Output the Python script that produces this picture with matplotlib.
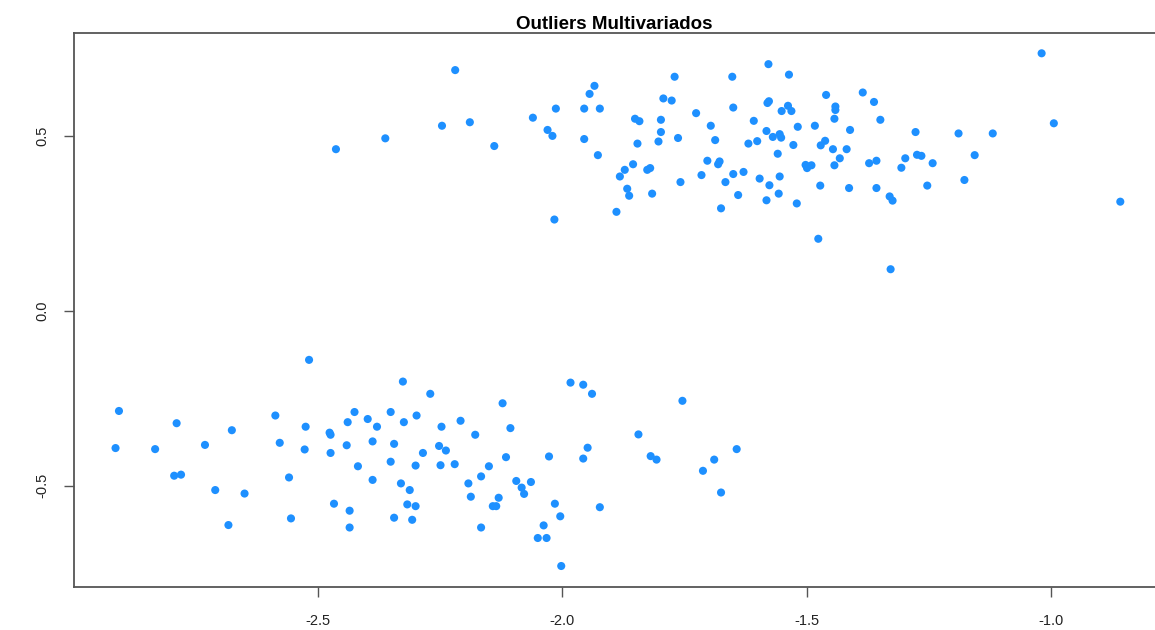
import matplotlib
matplotlib.use("Agg")
import matplotlib.pyplot as plt
import numpy as np

# Upper group of observations
upper_x = [-2.463, -2.362, -2.219, -2.246, -2.189, -2.139, -2.060, -2.030, -2.013, -2.020,
           -2.016, -1.955, -1.934, -1.944, -1.923, -1.955, -1.927, -1.889, -1.882, -1.872,
           -1.855, -1.867, -1.863, -1.846, -1.851, -1.842, -1.798, -1.798, -1.803, -1.826,
           -1.820, -1.816, -1.793, -1.776, -1.770, -1.763, -1.758, -1.726, -1.715, -1.703,
           -1.696, -1.687, -1.678, -1.681, -1.675, -1.666, -1.652, -1.650, -1.650, -1.640,
           -1.629, -1.608, -1.619, -1.601, -1.596, -1.582, -1.578, -1.580, -1.577, -1.582,
           -1.576, -1.569, -1.555, -1.552, -1.559, -1.555, -1.557, -1.551, -1.538, -1.531,
           -1.536, -1.527, -1.518, -1.520, -1.502, -1.499, -1.490, -1.483, -1.476, -1.472,
           -1.471, -1.462, -1.460, -1.446, -1.443, -1.441, -1.441, -1.443, -1.432, -1.418,
           -1.413, -1.411, -1.385, -1.372, -1.357, -1.362, -1.349, -1.357, -1.330, -1.324,
           -1.328, -1.306, -1.298, -1.277, -1.274, -1.265, -1.253, -1.242, -1.189, -1.177,
           -1.156, -1.119, -1.019, -0.994, -0.858]
upper_y = [0.462, 0.493, 0.688, 0.529, 0.539, 0.471, 0.552, 0.517, 0.578, 0.500,
           0.261, 0.578, 0.643, 0.620, 0.578, 0.491, 0.445, 0.283, 0.384, 0.403,
           0.419, 0.349, 0.329, 0.478, 0.549, 0.542, 0.546, 0.511, 0.484, 0.403,
           0.408, 0.335, 0.607, 0.601, 0.669, 0.494, 0.368, 0.565, 0.388, 0.429,
           0.529, 0.488, 0.427, 0.419, 0.293, 0.368, 0.669, 0.581, 0.391, 0.331,
           0.397, 0.543, 0.478, 0.485, 0.378, 0.316, 0.705, 0.594, 0.599, 0.514,
           0.359, 0.497, 0.505, 0.495, 0.449, 0.384, 0.335, 0.571, 0.586, 0.571,
           0.675, 0.474, 0.526, 0.307, 0.417, 0.408, 0.416, 0.529, 0.206, 0.358,
           0.473, 0.486, 0.617, 0.462, 0.549, 0.584, 0.574, 0.416, 0.436, 0.462,
           0.351, 0.517, 0.624, 0.422, 0.429, 0.597, 0.546, 0.351, 0.327, 0.315,
           0.119, 0.409, 0.436, 0.511, 0.446, 0.443, 0.358, 0.422, 0.507, 0.374,
           0.445, 0.507, 0.736, 0.536, 0.312]

# Lower group of observations
lower_x = [-2.518, -2.907, -2.914, -2.833, -2.789, -2.794, -2.780, -2.731, -2.676, -2.710,
           -2.650, -2.683, -2.587, -2.578, -2.525, -2.527, -2.559, -2.555, -2.476, -2.474,
           -2.474, -2.467, -2.435, -2.435, -2.441, -2.439, -2.425, -2.418, -2.398, -2.388,
           -2.388, -2.379, -2.351, -2.351, -2.344, -2.344, -2.326, -2.330, -2.324, -2.312,
           -2.317, -2.300, -2.307, -2.300, -2.298, -2.285, -2.270, -2.252, -2.238, -2.249,
           -2.247, -2.220, -2.208, -2.178, -2.192, -2.187, -2.166, -2.150, -2.166, -2.142,
           -2.135, -2.130, -2.122, -2.106, -2.115, -2.094, -2.083, -2.078, -2.064, -2.050,
           -2.032, -2.038, -2.027, -2.015, -2.004, -2.002, -1.983, -1.957, -1.939, -1.948,
           -1.957, -1.923, -1.844, -1.819, -1.807, -1.754, -1.712, -1.689, -1.675, -1.643]
lower_y = [-0.140, -0.286, -0.392, -0.395, -0.321, -0.471, -0.468, -0.383, -0.341, -0.512,
           -0.522, -0.612, -0.299, -0.377, -0.331, -0.396, -0.476, -0.593, -0.348, -0.354,
           -0.406, -0.551, -0.571, -0.619, -0.384, -0.318, -0.289, -0.444, -0.309, -0.373,
           -0.483, -0.331, -0.289, -0.431, -0.380, -0.591, -0.202, -0.493, -0.318, -0.512,
           -0.553, -0.558, -0.597, -0.442, -0.299, -0.406, -0.237, -0.386, -0.399, -0.441,
           -0.331, -0.438, -0.314, -0.354, -0.493, -0.531, -0.473, -0.444, -0.619, -0.558,
           -0.558, -0.534, -0.264, -0.335, -0.418, -0.486, -0.505, -0.523, -0.489, -0.649,
           -0.649, -0.613, -0.416, -0.551, -0.587, -0.729, -0.205, -0.211, -0.237, -0.391,
           -0.422, -0.561, -0.353, -0.415, -0.425, -0.257, -0.457, -0.425, -0.519, -0.395]

x_ticks = [-2.5, -2.0, -1.5, -1.0]
y_ticks = [-0.5, 0.0, 0.5]
title = "Outliers Multivariados"

plt.rcParams['font.family'] = ['Liberation Sans', 'DejaVu Sans']

fig = plt.figure(figsize=(11.55, 6.30), dpi=100)
ax = fig.add_axes([74 / 1155, 43 / 630, 1081 / 1155, 554 / 630])

xs = np.array(upper_x + lower_x)
ys = np.array(upper_y + lower_y)
ax.scatter(xs, ys, s=34, c="#1E90FF", edgecolors="none", zorder=3)

ax.set_xlim(-2.999, -0.787)
ax.set_ylim(-0.789, 0.794)

ax.set_xticks(x_ticks)
ax.set_xticklabels([f"{v:.1f}" for v in x_ticks])
ax.set_yticks(y_ticks)
ax.set_yticklabels([f"{v:.1f}" for v in y_ticks], rotation=90, va="center")

ax.tick_params(axis="both", direction="out", length=7.5, width=1, color="#555555",
               labelsize=10.5, labelcolor="#222222")
ax.tick_params(axis="x", pad=12)
ax.tick_params(axis="y", pad=10.5)

for sp in ax.spines.values():
    sp.set_color("#555555")
    sp.set_linewidth(1.3)
ax.spines["right"].set_visible(False)

ax.set_title(title, fontsize=13.5, fontweight="bold", pad=1)

fig.savefig("out.png", dpi=100)
